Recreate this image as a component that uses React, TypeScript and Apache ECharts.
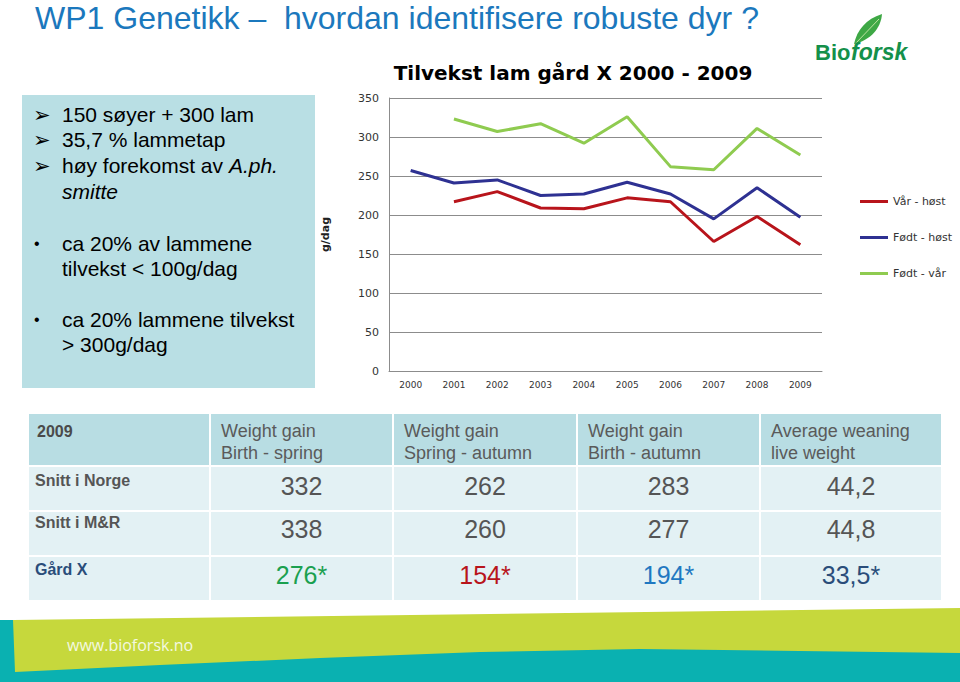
import React, { useEffect, useRef } from "react";
import * as echarts from "echarts";

const years = ["2000", "2001", "2002", "2003", "2004", "2005", "2006", "2007", "2008", "2009"];
const varHost = [null, 217, 230, 209, 208, 222, 217, 166, 198, 162];
const fodtHost = [257, 241, 245, 225, 227, 242, 227, 195, 235, 197];
const fodtVar = [null, 323, 307, 317, 292, 326, 262, 258, 311, 277];
const seriesNames = ["Vår - høst", "Født - høst", "Født - vår"];
const seriesColors = ["#b8141b", "#2e3192", "#8fcb50"];
const yTicks = [0, 50, 100, 150, 200, 250, 300, 350];

const tableHeader = ["2009", "Weight gain\nBirth - spring", "Weight gain\nSpring - autumn", "Weight gain\nBirth - autumn", "Average weaning\nlive weight"];
const rowLabels = ["Snitt i Norge", "Snitt i M&R", "Gård X"];
const rowNorge = ["332", "262", "283", "44,2"];
const rowMR = ["338", "260", "277", "44,8"];
const rowGardX = ["276*", "154*", "194*", "33,5*"];
const gardXColors = ["#1aa04f", "#b8141b", "#1f78c1", "#2a4d7a"];

const arrowBullets = ["150 søyer + 300 lam", "35,7 % lammetap"];
const dotBullets = [["ca 20% av lammene", "tilvekst < 100g/dag"], ["ca 20% lammene tilvekst", "> 300g/dag"]];

export default function App() {
  const ref = useRef<HTMLDivElement>(null);
  useEffect(() => {
    document.body.style.margin = "0";
    echarts.graphic.registerShape(
      "leaf",
      echarts.graphic.extendPath("M0 30 C 3 16 12 5 28 0 C 27 14 17 26 0 30 Z", {})
    );
    const chart = echarts.init(ref.current!, null, { renderer: "svg", width: 960, height: 682 });

    const colX = [28, 210, 393, 577, 760, 942];
    const rowY = [413, 466, 511, 556, 601];
    const g: any[] = [];

    // Title
    g.push({ type: "text", x: 35, y: 18, style: { text: "WP1 Genetikk –  hvordan identifisere robuste dyr ?", font: "32px 'Liberation Sans', sans-serif", fill: "#1b78bd", textVerticalAlign: "middle" } });

    // Left box
    g.push({ type: "rect", shape: { x: 22, y: 95, width: 293, height: 293 }, style: { fill: "#b9dfe4" } });
    const lf = "21px 'Liberation Sans', Arial, sans-serif";
    const arrowY = [114, 139, 165];
    arrowY.forEach((y) => {
      g.push({ type: "text", x: 33, y: y + 1, style: { text: "➢", font: "bold 21px 'DejaVu Sans'", fill: "#000", textVerticalAlign: "middle" } });
    });
    arrowBullets.forEach((t, i) => {
      g.push({ type: "text", x: 62, y: arrowY[i], style: { text: t, font: lf, fill: "#000", textVerticalAlign: "middle" } });
    });
    g.push({
      type: "text", x: 62, y: 165,
      style: {
        text: "{n|høy forekomst av }{i|A.ph.}", textVerticalAlign: "middle",
        rich: { n: { font: lf, fill: "#000" }, i: { font: "italic " + lf, fill: "#000" } },
      },
    });
    g.push({ type: "text", x: 62, y: 191, style: { text: "smitte", font: "italic " + lf, fill: "#000", textVerticalAlign: "middle" } });
    const dotY = [[243, 268], [319, 344]];
    dotBullets.forEach((lines, i) => {
      g.push({ type: "text", x: 34, y: dotY[i][0], style: { text: "•", font: "16px 'Liberation Sans'", fill: "#000", textVerticalAlign: "middle" } });
      lines.forEach((t, j) => {
        g.push({ type: "text", x: 62, y: dotY[i][j], style: { text: t, font: lf, fill: "#000", textVerticalAlign: "middle" } });
      });
    });

    // Chart title
    g.push({ type: "text", x: 573, y: 73, style: { text: "Tilvekst lam gård X 2000 - 2009", font: "bold 20px 'DejaVu Sans', sans-serif", fill: "#000", textAlign: "center", textVerticalAlign: "middle" } });

    // Logo
    g.push({ type: "leaf", x: 854, y: 14, style: { fill: "#3ea845" } });
    g.push({ type: "line", shape: { x1: 856, y1: 43, x2: 879, y2: 19 }, style: { stroke: "#bfe3a0", lineWidth: 1 } });
    g.push({ type: "text", x: 815, y: 52, style: { text: "Bio", font: "bold 22px 'Liberation Sans'", fill: "#14904a", textVerticalAlign: "middle" } });
    g.push({ type: "text", x: 851, y: 52, style: { text: "forsk", font: "italic bold 23px 'Liberation Sans'", fill: "#14904a", textVerticalAlign: "middle" } });

    // Table
    for (let r = 0; r < 4; r++) {
      for (let c = 0; c < 5; c++) {
        g.push({
          type: "rect",
          shape: { x: colX[c] + 1, y: rowY[r] + 1, width: colX[c + 1] - colX[c] - 2, height: rowY[r + 1] - rowY[r] - 2 },
          style: { fill: r === 0 ? "#b8dde3" : "#e3f1f4" },
        });
      }
    }
    g.push({ type: "text", x: 37, y: 431, style: { text: tableHeader[0], font: "bold 16px 'Liberation Sans'", fill: "#4a4a4a", textVerticalAlign: "middle" } });
    for (let c = 1; c < 5; c++) {
      const [a, b] = tableHeader[c].split("\n");
      g.push({ type: "text", x: colX[c] + 11, y: 431, style: { text: a, font: "18px 'Liberation Sans'", fill: "#5a5a5a", textVerticalAlign: "middle" } });
      g.push({ type: "text", x: colX[c] + 11, y: 453, style: { text: b, font: "18px 'Liberation Sans'", fill: "#5a5a5a", textVerticalAlign: "middle" } });
    }
    const labelY = [480, 522, 569];
    const valY = [486, 529, 575];
    const rows = [rowNorge, rowMR, rowGardX];
    rowLabels.forEach((t, r) => {
      g.push({ type: "text", x: 35, y: labelY[r], style: { text: t, font: "bold 16px 'Liberation Sans'", fill: r === 2 ? "#2a4d7a" : "#555", textVerticalAlign: "middle" } });
      rows[r].forEach((v, c) => {
        g.push({
          type: "text", x: (colX[c + 1] + colX[c + 2]) / 2, y: valY[r],
          style: { text: v, font: "25px 'Liberation Sans'", fill: r === 2 ? gardXColors[c] : "#555", textAlign: "center", textVerticalAlign: "middle" },
        });
      });
    });

    // Footer
    g.push({ type: "polygon", shape: { points: [[0, 620], [15, 620], [15, 662], [960, 640], [960, 682], [0, 682]] }, style: { fill: "#0ab1b1" } });
    g.push({
      type: "polygon",
      shape: { points: [[13, 620], [960, 608], [960, 653], [800, 651], [640, 649], [480, 652], [320, 658], [160, 665], [15, 672]] },
      style: { fill: "#c6d83c" },
    });
    g.push({ type: "text", x: 67, y: 645, style: { text: "www.bioforsk.no", font: "16px 'Open Sans', sans-serif", fill: "#f4f8e0", textVerticalAlign: "middle" } });

    const series = [varHost, fodtHost, fodtVar].map((d, i) => ({
      name: seriesNames[i],
      type: "line",
      data: d,
      symbol: "none",
      color: seriesColors[i],
      lineStyle: { width: 3, color: seriesColors[i] },
    }));

    chart.setOption({
      animation: false,
      grid: { left: 389, right: 138, top: 98, bottom: 311, containLabel: false },
      legend: {
        data: seriesNames,
        orient: "vertical",
        left: 855,
        top: 191,
        icon: "rect",
        itemWidth: 28,
        itemHeight: 3,
        itemGap: 25,
        textStyle: { fontFamily: "DejaVu Sans", fontSize: 11, color: "#333" },
      },
      xAxis: {
        type: "category",
        data: years,
        boundaryGap: true,
        axisLine: { lineStyle: { color: "#8c8c8c" } },
        axisTick: { show: false },
        axisLabel: { fontFamily: "DejaVu Sans", fontSize: 9, color: "#333", margin: 9 },
      },
      yAxis: {
        type: "value",
        min: yTicks[0],
        max: yTicks[yTicks.length - 1],
        interval: 50,
        name: "g/dag",
        nameLocation: "middle",
        nameGap: 58,
        nameTextStyle: { fontFamily: "DejaVu Sans", fontSize: 11, fontWeight: "bold", color: "#222" },
        axisLine: { show: true, lineStyle: { color: "#8c8c8c" } },
        axisTick: { show: false },
        splitLine: { lineStyle: { color: "#8c8c8c" } },
        axisLabel: { fontFamily: "DejaVu Sans", fontSize: 11, color: "#333", margin: 10 },
      },
      series,
      graphic: g,
    });
    return () => chart.dispose();
  }, []);
  return <div ref={ref} style={{ position: "absolute", left: 0, top: 0, width: 960, height: 682 }} />;
}
